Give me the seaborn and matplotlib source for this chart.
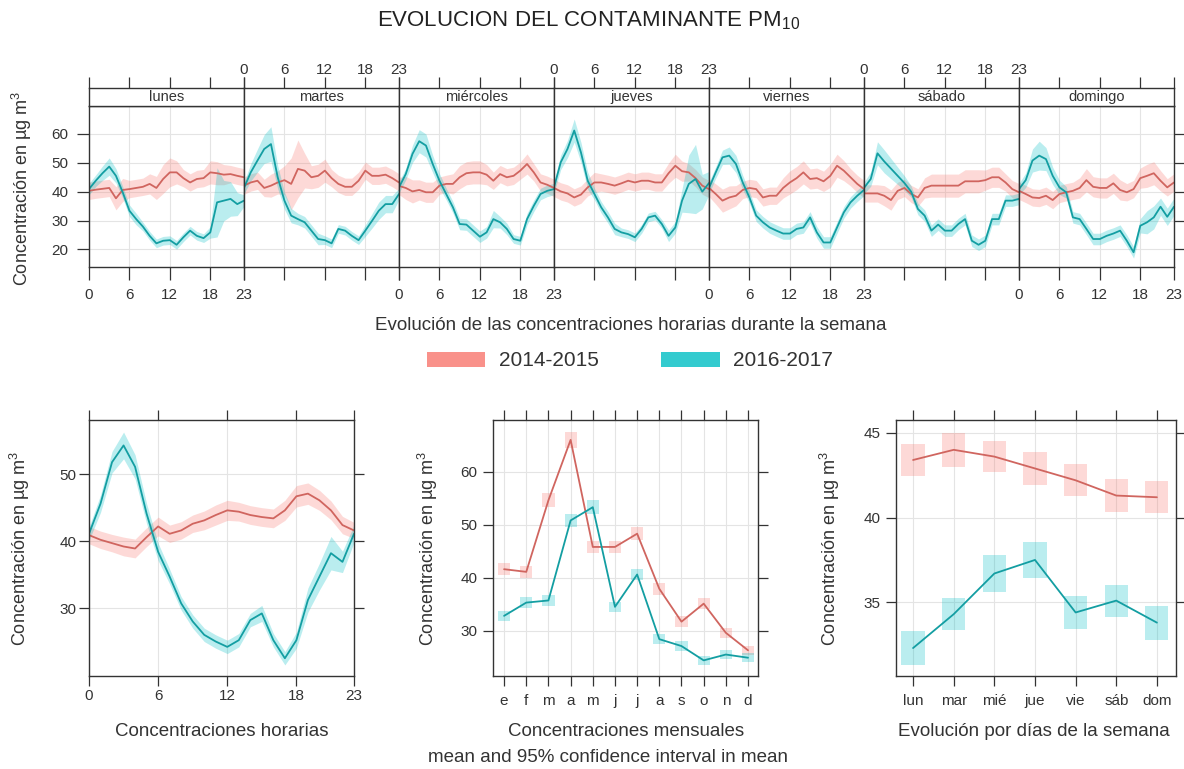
import numpy as np
import pandas as pd
import matplotlib
matplotlib.use("Agg")
import matplotlib.pyplot as plt
from matplotlib.patches import Patch
import seaborn as sns

# ---------------- datos ----------------
dias = ["lunes", "martes", "miércoles", "jueves", "viernes", "sábado", "domingo"]
dias_cortos = ["lun", "mar", "mié", "jue", "vie", "sáb", "dom"]
meses = ["e", "f", "m", "a", "m", "j", "j", "a", "s", "o", "n", "d"]
horas = list(range(24))
periodos = ["2014-2015", "2016-2017"]

# medias horarias por dia de la semana (lunes..domingo)
semana_1415 = [
    [40.3, 40.7, 41.0, 41.3, 37.7, 40.6, 40.9, 41.3, 41.7, 42.7, 41.3, 44.4, 46.7, 46.7, 44.7, 43.2, 44.4, 44.7, 46.7, 46.4, 45.9, 46.1, 45.5, 45.0],
    [42.1, 43.2, 43.8, 41.3, 42.1, 43.2, 44.0, 42.7, 47.9, 47.3, 45.0, 45.5, 47.3, 44.7, 42.7, 41.7, 41.7, 43.8, 47.3, 45.5, 45.5, 45.9, 44.7, 43.2],
    [42.0, 41.3, 40.1, 40.6, 39.8, 39.8, 42.1, 42.7, 42.7, 45.0, 46.4, 46.7, 46.7, 45.9, 43.8, 46.1, 45.0, 45.5, 47.3, 49.6, 46.7, 43.2, 42.4, 41.3],
    [41.3, 40.1, 39.4, 38.0, 39.0, 41.5, 43.2, 43.2, 42.7, 42.1, 42.9, 43.8, 43.2, 43.8, 43.8, 43.2, 43.2, 46.4, 49.0, 47.1, 46.7, 44.7, 42.1, 40.9],
    [41.3, 39.2, 36.9, 38.0, 38.6, 40.6, 41.3, 40.9, 38.0, 38.6, 38.6, 41.3, 43.2, 44.7, 46.7, 44.4, 44.7, 43.6, 45.5, 49.0, 47.3, 45.0, 42.7, 40.9],
    [39.4, 39.4, 39.4, 38.6, 37.1, 40.3, 41.3, 39.2, 38.0, 41.3, 42.1, 42.1, 42.1, 42.1, 42.1, 43.6, 43.6, 43.6, 44.0, 45.0, 45.0, 43.2, 40.9, 39.8],
    [40.3, 39.2, 38.0, 37.8, 38.6, 37.1, 39.2, 39.8, 40.3, 41.3, 44.0, 41.7, 41.3, 41.3, 42.9, 40.6, 39.8, 40.9, 44.7, 45.5, 46.4, 43.8, 41.5, 43.2],
]
semana_1617 = [
    [40.9, 43.8, 46.4, 48.7, 45.5, 39.8, 33.4, 30.5, 27.9, 24.7, 22.1, 23.0, 23.2, 21.6, 24.2, 26.5, 24.7, 23.9, 25.9, 36.3, 36.9, 37.5, 35.7, 36.9],
    [41.3, 46.7, 50.8, 54.8, 56.5, 45.0, 36.9, 31.7, 30.5, 29.4, 26.5, 23.6, 23.2, 22.1, 27.1, 26.5, 24.7, 23.2, 26.5, 29.9, 33.4, 35.7, 35.7, 39.2],
    [41.5, 46.1, 53.1, 57.5, 56.0, 49.6, 43.8, 39.2, 34.6, 28.8, 28.6, 26.5, 24.4, 25.9, 30.5, 29.4, 27.1, 23.6, 23.0, 30.5, 35.1, 39.2, 40.3, 40.9],
    [41.5, 50.2, 54.8, 61.2, 53.6, 43.8, 39.2, 34.6, 31.1, 27.1, 25.9, 25.3, 24.2, 27.1, 31.1, 31.7, 28.8, 24.7, 27.6, 36.9, 42.7, 44.4, 40.0, 43.0],
    [41.3, 46.7, 51.9, 52.5, 49.6, 43.2, 38.0, 31.7, 29.4, 27.6, 26.5, 25.5, 25.5, 27.1, 27.6, 31.1, 25.9, 22.4, 22.4, 27.6, 32.8, 36.3, 38.6, 40.6],
    [41.3, 44.4, 53.3, 50.5, 48.0, 45.5, 43.0, 40.0, 34.0, 31.7, 26.5, 28.6, 26.5, 26.5, 28.8, 30.5, 23.0, 21.6, 23.0, 30.5, 30.5, 36.9, 36.9, 37.5],
    [40.9, 44.0, 50.8, 52.5, 51.3, 45.5, 41.5, 39.8, 31.1, 30.5, 27.1, 23.6, 23.6, 24.7, 25.5, 26.5, 23.0, 19.0, 28.2, 29.4, 31.1, 34.8, 31.3, 34.8],
]
# semiamplitud del intervalo de confianza
ic_semana_1415 = [
    [3, 3, 3, 3, 4, 4, 3, 3, 3, 3.5, 4, 5, 5, 4, 3, 3, 3, 3, 4, 4, 3.5, 3, 3, 3],
    [3, 3, 3, 3, 4, 4, 5, 9, 10, 6, 4, 4, 4, 3, 3, 3, 3, 3, 3, 3, 3, 3, 3, 3],
    [3, 4, 4, 3.5, 3.5, 3.5, 3, 3, 3.5, 4, 4, 4, 4, 3.5, 3, 3, 3, 3, 3, 3.5, 3, 3, 3, 3],
    [3, 3, 3, 3, 3, 3, 3.5, 3, 3, 3, 3, 3, 3, 3, 3, 3, 3, 3.5, 4, 3.5, 3, 3, 3, 3],
    [3, 3.5, 4, 4, 3.5, 3, 3, 3, 3, 3, 3, 3.5, 4, 4, 4, 3.5, 3.5, 3.5, 4, 4, 3.5, 3, 3, 3],
    [3, 3, 3, 3.5, 3.5, 3, 3, 3, 3, 3.5, 4, 4, 4, 4, 4, 4, 4, 4, 3.5, 3.5, 3.5, 3, 3, 3],
    [3, 3, 3, 3, 3, 3, 3, 3, 3, 3.5, 4, 3.5, 3.5, 3.5, 3.5, 3.5, 3, 3, 3.5, 4, 4, 3.5, 3, 3],
]
ic_semana_1617 = [
    [2, 2, 2.5, 3, 2.5, 2, 2, 2, 1.5, 1.5, 1.5, 1.5, 1.5, 1.5, 1.5, 1.5, 1.5, 1.5, 2, 12, 7, 6, 4, 2],
    [2, 3, 4, 5, 6, 4, 3, 2.5, 2, 2, 2, 2, 1.5, 1.5, 1.5, 1.5, 1.5, 1.5, 2, 2.5, 3, 3, 3, 2],
    [2, 2, 3, 4, 4, 3, 2.5, 2, 2, 2, 2, 2, 2, 2, 3, 2, 2, 1.5, 1.5, 2, 2, 2, 2, 2],
    [2, 2.5, 3, 4, 3.5, 3, 2, 2, 2, 2, 1.5, 1.5, 1.5, 1.5, 1.5, 1.5, 1.5, 2, 2, 4, 10, 12, 6, 4],
    [2, 2, 2.5, 3, 3, 2.5, 2, 2, 2, 2, 2, 2, 2, 2, 2, 2, 2, 2, 2, 2, 2, 2, 2, 2],
    [2, 2.5, 4, 4, 3.5, 3, 2.5, 2, 2, 2, 2, 2, 2, 2, 2, 2, 2, 2, 2, 2, 2, 2, 2, 2],
    [2, 2.5, 4, 5, 4, 3, 2.5, 2, 2, 2, 2, 2, 2, 2, 2, 2, 2, 2, 2.5, 4, 4, 3, 3, 3],
]

# perfil horario medio
hora_1415 = [40.9, 40.2, 39.7, 39.2, 38.9, 40.6, 42.2, 41.1, 41.6, 42.6, 43.1, 43.9, 44.6, 44.4, 43.9, 43.6, 43.4, 44.6, 46.7, 47.1, 46.1, 44.6, 42.4, 41.6]
hora_1617 = [41.1, 45.6, 51.8, 54.3, 51.1, 44.1, 38.4, 34.7, 30.7, 28.0, 26.0, 25.0, 24.2, 25.2, 28.2, 29.2, 25.2, 22.5, 25.2, 31.2, 34.7, 38.2, 36.9, 41.1]
ic_hora_1415 = [1.3, 1.3, 1.3, 1.4, 1.4, 1.4, 1.4, 1.3, 1.3, 1.3, 1.4, 1.5, 1.5, 1.4, 1.4, 1.4, 1.4, 1.5, 1.6, 1.6, 1.5, 1.4, 1.3, 1.2]
ic_hora_1617 = [1.0, 1.3, 1.6, 2.0, 1.8, 1.5, 1.3, 1.1, 1.0, 1.0, 1.0, 1.0, 1.0, 1.0, 1.0, 1.2, 1.0, 1.0, 1.2, 1.8, 2.0, 2.5, 1.6, 1.3]

# medias mensuales
mes_1415 = [41.6, 41.1, 54.6, 66.0, 45.8, 45.8, 48.3, 37.9, 31.7, 35.1, 29.6, 26.3]
mes_1617 = [32.8, 35.3, 35.7, 50.8, 53.3, 34.5, 40.6, 28.4, 27.1, 24.4, 25.5, 24.9]
ic_mes_1415 = [1.1, 1.1, 1.3, 1.5, 1.2, 1.1, 1.2, 1.1, 1.0, 1.1, 0.9, 0.9]
ic_mes_1617 = [0.9, 1.0, 1.0, 1.2, 1.3, 1.0, 1.1, 0.9, 0.9, 0.8, 0.8, 0.8]

# medias por dia de la semana
dia_1415 = [43.4, 44.0, 43.6, 42.9, 42.2, 41.3, 41.2]
dia_1617 = [32.3, 34.3, 36.7, 37.5, 34.4, 35.1, 33.8]
ic_dia_1415 = [0.95, 1.0, 0.9, 0.95, 0.95, 0.95, 0.95]
ic_dia_1617 = [1.0, 0.95, 1.1, 1.05, 0.95, 0.95, 1.0]

# ---------------- estilo ----------------
sns.set_theme(style="white")
plt.rcParams['font.family'] = ['Liberation Sans', 'DejaVu Sans']
plt.rcParams['mathtext.fontset'] = 'custom'
plt.rcParams['mathtext.rm'] = 'Liberation Sans'
plt.rcParams['mathtext.it'] = 'Liberation Sans:italic'

LINEA = ["#D0655F", "#139EA2"]
RELLENO = ["#F8766D", "#00BFC4"]
GRIS = "#333333"
YLAB = "Concentración en µg m$^{\\mathrm{3}}$"
F_LAB = 13.5
F_TICK = 11

W, H = 1184, 769
fig = plt.figure(figsize=(W / 100, H / 100), dpi=100)


def caja(l, t, r, b):
    return [l / W, 1 - b / H, (r - l) / W, (b - t) / H]


def estilo(ax, largo=7, sep=4):
    for s in ax.spines.values():
        s.set_color(GRIS)
        s.set_linewidth(1.0)
    ax.tick_params(direction='out', length=largo, width=0.9, color=GRIS,
                   labelsize=F_TICK, labelcolor=GRIS, pad=sep,
                   bottom=True, top=True, left=True, right=True,
                   labeltop=False, labelright=False)
    ax.grid(True, color='#e4e4e4', linewidth=0.8)
    ax.set_axisbelow(True)


def banda(ax, x, y, ic, k):
    y = np.array(y)
    ic = np.array(ic)
    ax.fill_between(x, y - ic, y + ic, color=RELLENO[k], alpha=0.27, lw=0)
    sns.lineplot(x=x, y=y, ax=ax, color=LINEA[k], linewidth=1.3)


# ---------------- panel semanal ----------------
x0, ancho = 89, 155
for i, dia in enumerate(dias):
    l, r = x0 + i * ancho, x0 + (i + 1) * ancho
    ax = fig.add_axes(caja(l, 106, r, 267))
    estilo(ax, largo=9, sep=6)
    banda(ax, horas, semana_1415[i], ic_semana_1415[i], 0)
    banda(ax, horas, semana_1617[i], ic_semana_1617[i], 1)
    ax.set_xlim(0, 23)
    ax.set_ylim(13.9, 69.7)
    ax.set_xticks([0, 6, 12, 18, 23])
    ax.set_yticks([20, 30, 40, 50, 60])
    ax.set_xlabel('')
    ax.set_ylabel('')
    ax.tick_params(top=False, left=(i == 0), right=(i == 6),
                   labelleft=(i == 0), labelbottom=(i % 2 == 0))
    # tira con el nombre del dia
    st = fig.add_axes(caja(l, 88, r, 106))
    for s in st.spines.values():
        s.set_color(GRIS)
        s.set_linewidth(1.0)
    st.set_xlim(0, 23)
    st.set_yticks([])
    st.set_xticks([0, 6, 12, 18, 23])
    st.tick_params(direction='out', length=8, width=0.9, color=GRIS,
                   labelsize=F_TICK, labelcolor=GRIS, pad=0,
                   bottom=False, top=True, labelbottom=False,
                   labeltop=(i % 2 == 1))
    st.text(11.5, 0.5, dia, ha='center', va='center', fontsize=10.5,
            color=GRIS, transform=st.get_xaxis_transform())

fig.text(22 / W, 1 - 188 / H, YLAB, rotation=90, ha='center', va='center',
         fontsize=13, color=GRIS)
fig.text(631 / W, 1 - 325 / H,
         "Evolución de las concentraciones horarias durante la semana",
         ha='center', va='center', fontsize=F_LAB, color=GRIS)

# leyenda
manejadores = [Patch(facecolor=RELLENO[0], alpha=0.8, edgecolor='none'),
               Patch(facecolor=RELLENO[1], alpha=0.8, edgecolor='none')]
fig.legend(manejadores, periodos, loc='center', bbox_to_anchor=(630 / W, 1 - 361 / H),
           ncol=2, frameon=False, fontsize=15, handlelength=2.8, handleheight=0.7,
           handletextpad=0.65, columnspacing=3.0, labelcolor=GRIS)

# ---------------- perfil horario ----------------
ax = fig.add_axes(caja(89, 420, 354, 676))
estilo(ax, sep=2)
banda(ax, horas, hora_1415, ic_hora_1415, 0)
banda(ax, horas, hora_1617, ic_hora_1617, 1)
ax.set_xlim(0, 23)
ax.set_ylim(19.85, 58.1)
ax.set_xticks([0, 6, 12, 18, 23])
ax.set_yticks([30, 40, 50])
ax.set_xlabel('')
ax.set_ylabel('')
fig.text(20 / W, 1 - 548 / H, YLAB, rotation=90, ha='center', va='center',
         fontsize=13, color=GRIS)
fig.text(222 / W, 1 - 731 / H, "Concentraciones horarias", ha='center',
         va='center', fontsize=F_LAB, color=GRIS)

# ---------------- perfil mensual ----------------
ax = fig.add_axes(caja(493, 420, 758, 676))
estilo(ax, sep=6)
xm = list(range(1, 13))
for k, (v, ic) in enumerate([(mes_1415, ic_mes_1415), (mes_1617, ic_mes_1617)]):
    v = np.array(v)
    ic = np.array(ic)
    ax.bar(xm, 2 * ic, bottom=v - ic, width=0.55, color=RELLENO[k], alpha=0.27, lw=0)
    sns.lineplot(x=xm, y=v, ax=ax, color=LINEA[k], linewidth=1.3)
ax.set_xlim(0.5, 12.45)
ax.set_ylim(21.45, 69.75)
ax.set_xticks(xm)
ax.set_xticklabels(meses)
ax.set_yticks([30, 40, 50, 60])
ax.set_xlabel('')
ax.set_ylabel('')
ax.tick_params(axis='y', pad=4)
fig.text(428 / W, 1 - 548 / H, YLAB, rotation=90, ha='center', va='center',
         fontsize=13, color=GRIS)
fig.text(626 / W, 1 - 731 / H, "Concentraciones mensuales", ha='center',
         va='center', fontsize=F_LAB, color=GRIS)
fig.text(608 / W, 1 - 757 / H, "mean and 95% confidence interval in mean",
         ha='center', va='center', fontsize=F_LAB, color=GRIS)

# ---------------- dias de la semana ----------------
ax = fig.add_axes(caja(896, 420, 1176, 676))
estilo(ax, sep=6)
xd = list(range(1, 8))
for k, (v, ic) in enumerate([(dia_1415, ic_dia_1415), (dia_1617, ic_dia_1617)]):
    v = np.array(v)
    ic = np.array(ic)
    ax.bar(xd, 2 * ic, bottom=v - ic, width=0.57, color=RELLENO[k], alpha=0.27, lw=0)
    sns.lineplot(x=xd, y=v, ax=ax, color=LINEA[k], linewidth=1.3)
ax.set_xlim(0.58, 7.47)
ax.set_ylim(30.65, 45.76)
ax.set_xticks(xd)
ax.set_xticklabels(dias_cortos)
ax.set_yticks([35, 40, 45])
ax.set_xlabel('')
ax.set_ylabel('')
ax.tick_params(axis='y', pad=4)
fig.text(830 / W, 1 - 548 / H, YLAB, rotation=90, ha='center', va='center',
         fontsize=13, color=GRIS)
fig.text(1034 / W, 1 - 731 / H, "Evolución por días de la semana", ha='center',
         va='center', fontsize=F_LAB, color=GRIS)

fig.text(589 / W, 1 - 21 / H, "EVOLUCION DEL CONTAMINANTE PM$_{\\mathrm{10}}$",
         ha='center', va='center', fontsize=16, color='#222222')

fig.savefig("out.png", dpi=100)
